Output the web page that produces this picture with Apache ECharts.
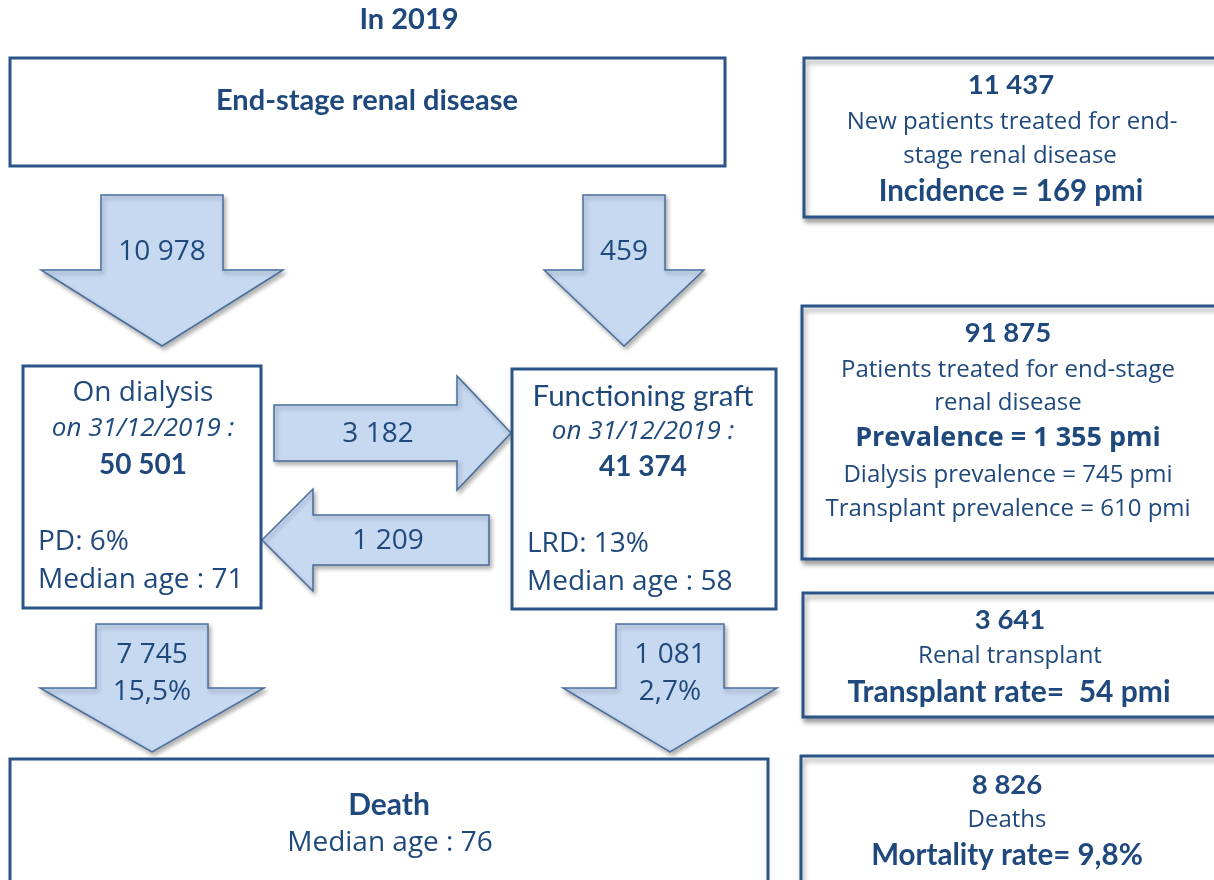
<!DOCTYPE html>
<html>
<head>
<meta charset="utf-8">
<script src="https://cdn.jsdelivr.net/npm/echarts@6/dist/echarts.min.js"></script>
<style>
  html, body { margin: 0; padding: 0; background: #fff; }
  #chart { width: 1214px; height: 880px; }
</style>
</head>
<body>
<div id="chart"></div>
<script>
// ---- data ----
const yearLabel = 'In 2019';
const stageLabel = 'End-stage renal disease';
const stateNames = ['On dialysis', 'Functioning graft'];
const stateDate = 'on 31/12/2019 :';
const stateCounts = [50501, 41374];
const stateShares = ['PD: 6%', 'LRD: 13%'];
const stateMedianAges = [71, 58];
const entryCounts = [10978, 459];          // ESRD -> dialysis, ESRD -> pre-emptive graft
const transferCounts = [3182, 1209];       // dialysis -> graft, graft -> dialysis
const deathCounts = [7745, 1081];
const deathRates = ['15,5%', '2,7%'];
const deathMedianAge = 76;
const summaryCounts = [11437, 91875, 3641, 8826];
const summaryLabels = [
  ['New patients treated for end-', 'stage renal disease'],
  ['Patients treated for end-stage', 'renal disease'],
  ['Renal transplant'],
  ['Deaths']
];
const summaryRates = ['Incidence = 169 pmi', 'Prevalence = 1 355 pmi', 'Transplant rate=  54 pmi', 'Mortality rate= 9,8%'];
const prevalenceSplit = ['Dialysis prevalence = 745 pmi', 'Transplant prevalence = 610 pmi'];

// ---- styles ----
const INK = '#1f497d';
const BORDER = '#2b5489';
const ARROW_FILL = '#c6d9f1';
const ARROW_LINE = '#4a6e9d';
const NARROW = 'Lato';
const WIDE = '"Open Sans"';

function fmt(n) {
  return String(n).replace(/\B(?=(\d{3})+(?!\d))/g, ' ');
}

// ---- layout (diagram coordinates, 1 unit = 1 px) ----
const boxLayout = [
  { x: 10, y: 58, w: 715, h: 108, shadow: false },    // ESRD
  { x: 23, y: 366, w: 238, h: 242, shadow: false },   // dialysis
  { x: 512, y: 369, w: 264, h: 240, shadow: false },  // graft
  { x: 10, y: 759, w: 758, h: 150, shadow: false },   // death
  { x: 804, y: 58, w: 440, h: 159, shadow: true },    // incidence
  { x: 802, y: 306, w: 440, h: 253, shadow: true },   // prevalence
  { x: 803, y: 593, w: 440, h: 124, shadow: true },   // transplant
  { x: 801, y: 756, w: 440, h: 150, shadow: true }    // deaths
];

// down arrows: cx, top, shoulder, tip, half shaft, half head
// side arrows: cy, tail, shoulder, tip, half shaft, half head
const arrowLayout = [
  { dir: 'down', c: 162, a: 195, s: 270, t: 346, sh: 61, hh: 121 },
  { dir: 'down', c: 624, a: 195, s: 270, t: 346, sh: 41, hh: 80 },
  { dir: 'side', c: 433, a: 274, s: 457, t: 511, sh: 28, hh: 57 },
  { dir: 'side', c: 540, a: 489, s: 313, t: 262, sh: 25, hh: 51 },
  { dir: 'down', c: 152, a: 624, s: 688, t: 752, sh: 56, hh: 112 },
  { dir: 'down', c: 670, a: 624, s: 688, t: 752, sh: 54, hh: 107 }
];

function T(text, x, y, size, opts) {
  return Object.assign({ text: text, x: x, y: y, size: size, weight: 'normal', style: 'normal', family: WIDE, align: 'center' }, opts || {});
}

const texts = [
  T(yearLabel, 409, 20, 29, { weight: 'bold', family: NARROW }),
  T(stageLabel, 367, 101, 29, { weight: 'bold', family: NARROW }),
  // flow numbers
  T(fmt(entryCounts[0]), 162, 252, 28),
  T(fmt(entryCounts[1]), 624, 252, 28),
  T(fmt(transferCounts[0]), 378, 434, 28),
  T(fmt(transferCounts[1]), 388, 541, 28),
  T(fmt(deathCounts[0]), 152, 655, 28),
  T(deathRates[0], 152, 692, 28),
  T(fmt(deathCounts[1]), 670, 655, 28),
  T(deathRates[1], 670, 692, 28),
  // dialysis box
  T(stateNames[0], 143, 393, 28),
  T(stateDate, 143, 429, 26, { style: 'italic' }),
  T(fmt(stateCounts[0]), 143, 465, 28, { weight: 'bold', family: NARROW }),
  T(stateShares[0], 38, 542, 28, { align: 'left' }),
  T('Median age : ' + stateMedianAges[0], 38, 580, 28, { align: 'left' }),
  // graft box
  T(stateNames[1], 643, 396, 29.5, { family: NARROW }),
  T(stateDate, 643, 432, 26, { style: 'italic' }),
  T(fmt(stateCounts[1]), 643, 467, 28, { weight: 'bold', family: NARROW }),
  T(stateShares[1], 527, 544, 28, { align: 'left' }),
  T('Median age : ' + stateMedianAges[1], 527, 582, 28, { align: 'left' }),
  // death box
  T('Death', 389, 805, 30, { weight: 'bold', family: NARROW }),
  T('Median age : ' + deathMedianAge, 390, 843, 28),
  // incidence
  T(fmt(summaryCounts[0]), 1011, 85, 27.5, { weight: 'bold', family: NARROW }),
  T(summaryLabels[0][0], 1012, 122, 24),
  T(summaryLabels[0][1], 1010, 156, 24),
  T(summaryRates[0], 1011, 191, 29.5, { weight: 'bold', family: NARROW }),
  // prevalence
  T(fmt(summaryCounts[1]), 1008, 333, 27.5, { weight: 'bold', family: NARROW }),
  T(summaryLabels[1][0], 1008, 370, 24),
  T(summaryLabels[1][1], 1008, 403, 24),
  T(summaryRates[1], 1008, 438, 27, { weight: 'bold' }),
  T(prevalenceSplit[0], 1008, 475, 24),
  T(prevalenceSplit[1], 1008, 509, 24),
  // transplant
  T(fmt(summaryCounts[2]), 1010, 620, 27.5, { weight: 'bold', family: NARROW }),
  T(summaryLabels[2][0], 1010, 656, 24),
  T(summaryRates[2], 1009, 692, 30, { weight: 'bold', family: NARROW }),
  // deaths
  T(fmt(summaryCounts[3]), 1007, 785, 27.5, { weight: 'bold', family: NARROW }),
  T(summaryLabels[3][0], 1007, 820, 24),
  T(summaryRates[3], 1007, 855, 29.5, { weight: 'bold', family: NARROW })
];

function arrowPoints(a) {
  if (a.dir === 'down') {
    return [[a.c - a.sh, a.a], [a.c + a.sh, a.a], [a.c + a.sh, a.s], [a.c + a.hh, a.s],
            [a.c, a.t], [a.c - a.hh, a.s], [a.c - a.sh, a.s]];
  }
  return [[a.a, a.c - a.sh], [a.s, a.c - a.sh], [a.s, a.c - a.hh], [a.t, a.c],
          [a.s, a.c + a.hh], [a.s, a.c + a.sh], [a.a, a.c + a.sh]];
}

const chart = echarts.init(document.getElementById('chart'));

chart.setOption({
  animation: false,
  backgroundColor: '#fff',
  grid: { left: 0, right: 0, top: 0, bottom: 0 },
  xAxis: { type: 'value', min: 0, max: 1214, show: false },
  yAxis: { type: 'value', min: 0, max: 880, inverse: true, show: false },
  series: [
    {
      name: 'arrows',
      type: 'custom',
      clip: false,
      silent: true,
      data: arrowLayout.map((a, i) => [i, i]),
      renderItem: function (params, api) {
        const pts = arrowPoints(arrowLayout[params.dataIndex]).map(p => api.coord(p));
        return {
          type: 'polygon',
          shape: { points: pts },
          style: {
            fill: ARROW_FILL, stroke: ARROW_LINE, lineWidth: 1.5,
            shadowBlur: 4, shadowOffsetX: 2, shadowOffsetY: 3, shadowColor: 'rgba(0,0,0,0.3)'
          }
        };
      }
    },
    {
      name: 'boxes',
      type: 'custom',
      clip: false,
      silent: true,
      data: boxLayout.map((b, i) => [i, i]),
      renderItem: function (params, api) {
        const b = boxLayout[params.dataIndex];
        const p0 = api.coord([b.x, b.y]);
        const p1 = api.coord([b.x + b.w, b.y + b.h]);
        const style = { fill: '#fff', stroke: BORDER, lineWidth: 3 };
        if (b.shadow) {
          Object.assign(style, { shadowBlur: 5, shadowOffsetX: 2, shadowOffsetY: 4, shadowColor: 'rgba(0,0,0,0.35)' });
        }
        return {
          type: 'rect',
          shape: { x: p0[0], y: p0[1], width: p1[0] - p0[0], height: p1[1] - p0[1] },
          style: style
        };
      }
    },
    {
      name: 'texts',
      type: 'custom',
      clip: false,
      silent: true,
      z: 5,
      data: texts.map((t, i) => [i, i]),
      renderItem: function (params, api) {
        const t = texts[params.dataIndex];
        const p = api.coord([t.x, t.y]);
        return {
          type: 'text',
          x: p[0],
          y: p[1],
          style: {
            text: t.text,
            fill: INK,
            fontSize: t.size,
            fontWeight: t.weight,
            fontStyle: t.style,
            fontFamily: t.family,
            align: t.align,
            verticalAlign: 'middle'
          }
        };
      }
    }
  ]
});
</script>
</body>
</html>
